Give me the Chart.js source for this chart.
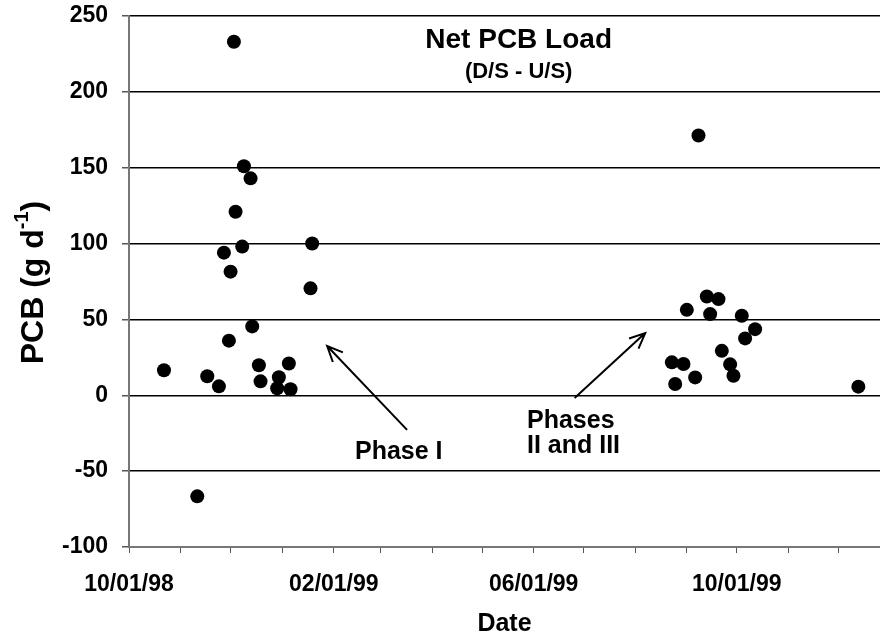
<!DOCTYPE html>
<html>
<head>
<meta charset="utf-8">
<script src="https://cdn.jsdelivr.net/npm/chart.js@4.4.1/dist/chart.umd.min.js"></script>
<style>
  html, body { margin: 0; padding: 0; background: #fff; }
  #wrap { width: 880px; height: 643px; position: relative; }
</style>
</head>
<body>
<div id="wrap"><canvas id="pcbChart"></canvas></div>
<script>
// ── Data ─────────────────────────────────────────────────────────────────────
const AXIS_START = '10/01/98';
const AXIS_END   = '12/26/99';

const phase1Dates  = ['10/22/98','11/11/98','11/17/98','11/24/98','11/27/98','11/30/98','12/01/98',
                      '12/03/98','12/04/98','12/08/98','12/09/98','12/13/98','12/14/98','12/18/98',
                      '12/19/98','12/29/98','12/30/98','01/05/99','01/06/99','01/18/99','01/19/99'];
const phase1Values = [16.5, -66.6, 12.5, 5.9, 94, 36, 81.5,
                      233, 121, 98, 151, 143, 45.4, 19.8,
                      9.2, 4.6, 11.9, 21, 4, 70.5, 100];

const phase23Dates  = ['08/23/99','08/25/99','08/30/99','09/01/99','09/06/99','09/08/99','09/13/99',
                       '09/15/99','09/20/99','09/22/99','09/27/99','09/29/99','10/04/99','10/06/99',
                       '10/12/99','12/13/99'];
const phase23Values = [21.7, 7.4, 20.6, 56.3, 11.8, 171.2, 65.1,
                       53.5, 63.4, 29.3, 20.4, 12.9, 52.4, 37.5,
                       43.6, 5.7];

const yTicks       = [-100, -50, 0, 50, 100, 150, 200, 250];
const monthTicks   = ['10/01/98','11/01/98','12/01/98','01/01/99','02/01/99','03/01/99','04/01/99',
                      '05/01/99','06/01/99','07/01/99','08/01/99','09/01/99','10/01/99','11/01/99',
                      '12/01/99'];
const labelledTicks = ['10/01/98','02/01/99','06/01/99','10/01/99'];

// ── Helpers ───────────────────────────────────────────────────────────────────
const DAY = 24 * 60 * 60 * 1000;
const toDay = s => {
  const [m, d, y] = s.split('/').map(Number);
  return (Date.UTC(1900 + (y < 50 ? y + 100 : y), m - 1, d) - Date.UTC(1998, 9, 1)) / DAY;
};
const dayToLabel = {};
monthTicks.forEach(s => { dayToLabel[toDay(s)] = labelledTicks.includes(s) ? s : ''; });

const points = (dates, vals) => dates.map((d, i) => ({ x: toDay(d), y: vals[i] }));

const FONT = "'Liberation Sans', Arial, Helvetica, sans-serif";

// ── Text + arrow overlay (anchored in data units) ───────────────────────────
const overlay = {
  id: 'overlay',
  afterDraw(chart) {
    const { ctx, scales: { x, y } } = chart;
    const px = d => x.getPixelForValue(d), py = v => y.getPixelForValue(v);

    ctx.save();
    ctx.fillStyle = '#000';
    ctx.textAlign = 'center';
    ctx.textBaseline = 'middle';

    ctx.font = `bold 28px ${FONT}`;
    ctx.fillText('Net PCB Load', px(234), py(234));
    ctx.font = `bold 22px ${FONT}`;
    ctx.fillText('(D/S - U/S)', px(234), py(213));

    ctx.font = `bold 25px ${FONT}`;
    ctx.fillText('Phase I', px(162), py(-37.5));
    ctx.textAlign = 'left';
    ctx.fillText('Phases', px(239), py(-17));
    ctx.fillText('II and III', px(239), py(-33.5));

    const arrow = (x0, y0, x1, y1) => {
      const a = Math.atan2(y1 - y0, x1 - x0), L = 17, w = 0.42;
      ctx.beginPath();
      ctx.moveTo(x0, y0); ctx.lineTo(x1, y1);
      ctx.moveTo(x1 - L * Math.cos(a - w), y1 - L * Math.sin(a - w));
      ctx.lineTo(x1, y1);
      ctx.lineTo(x1 - L * Math.cos(a + w), y1 - L * Math.sin(a + w));
      ctx.stroke();
    };
    ctx.strokeStyle = '#000';
    ctx.lineWidth = 2;
    arrow(px(167), py(-22.8), px(119), py(32.5));
    arrow(px(267.6), py(-1.8), px(310), py(41));

    // y axis title with a real superscript
    ctx.translate(34, (chart.chartArea.top + chart.chartArea.bottom) / 2 + 1);
    ctx.rotate(-Math.PI / 2);
    ctx.textAlign = 'left';
    ctx.textBaseline = 'middle';
    const main1 = 'PCB (g d', sup = '-1', main2 = ')';
    const big = `bold 32px ${FONT}`, small = `bold 20px ${FONT}`;
    ctx.font = big;
    const w1 = ctx.measureText(main1).width, w3 = ctx.measureText(main2).width;
    ctx.font = small;
    const w2 = ctx.measureText(sup).width;
    let sx = -(w1 + w2 + w3) / 2;
    ctx.font = big;
    ctx.fillText(main1, sx, 0); sx += w1;
    ctx.font = small;
    ctx.fillText(sup, sx, -12); sx += w2;
    ctx.font = big;
    ctx.fillText(main2, sx, 0);
    ctx.restore();
  },
};

// ── Chart ────────────────────────────────────────────────────────────────────
new Chart(document.getElementById('pcbChart').getContext('2d'), {
  type: 'scatter',
  data: {
    datasets: [
      { label: 'Phase I', data: points(phase1Dates, phase1Values) },
      { label: 'Phases II and III', data: points(phase23Dates, phase23Values) },
    ],
  },
  options: {
    responsive: true,
    maintainAspectRatio: false,
    animation: false,
    layout: { autoPadding: false, padding: { top: 16, right: 0, left: 0, bottom: 0 } },
    elements: {
      point: { radius: 7, backgroundColor: '#000', borderColor: '#000', borderWidth: 0, hoverRadius: 7 },
    },
    plugins: { legend: { display: false }, tooltip: { enabled: false } },
    scales: {
      x: {
        type: 'linear',
        min: toDay(AXIS_START),
        max: toDay(AXIS_END),
        afterBuildTicks: s => { s.ticks = monthTicks.map(d => ({ value: toDay(d) })); },
        afterFit: s => { s.height = 643 - 547; s.paddingLeft = 0; s.paddingRight = 0; },
        ticks: {
          autoSkip: false, maxRotation: 0, padding: 18,
          color: '#000', font: { family: FONT, size: 23, weight: 'bold' },
          callback: v => dayToLabel[v] ?? '',
        },
        grid: { drawOnChartArea: false, drawTicks: true, tickLength: 6, tickColor: '#555', tickWidth: 1 },
        border: { color: '#777', width: 2 },
        title: {
          display: true, text: 'Date', color: '#000', padding: { top: 0, bottom: 4 },
          font: { family: FONT, size: 25, weight: 'bold' },
        },
      },
      y: {
        min: -100, max: 250,
        afterBuildTicks: s => { s.ticks = yTicks.map(v => ({ value: v })); },
        afterFit: s => { s.width = 129; s.paddingTop = 0; s.paddingBottom = 0; },
        ticks: { color: '#000', padding: 14, font: { family: FONT, size: 23, weight: 'bold' } },
        grid: { color: '#000', lineWidth: 1.5, tickLength: 7, tickColor: '#555' },
        border: { color: '#777', width: 2 },
      },
    },
  },
  plugins: [overlay],
});
</script>
</body>
</html>
